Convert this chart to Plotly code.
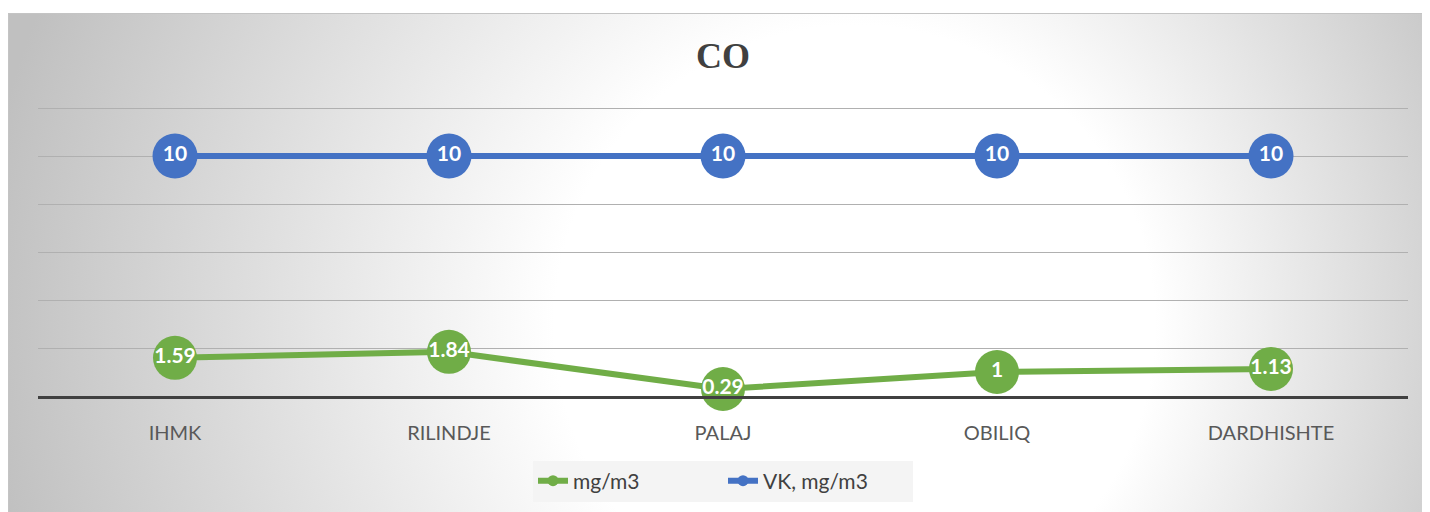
import base64
import plotly.graph_objects as go

categories = ["IHMK", "RILINDJE", "PALAJ", "OBILIQ", "DARDHISHTE"]
co_values = [1.59, 1.84, 0.29, 1.0, 1.13]
vk_values = [10, 10, 10, 10, 10]
co_labels = ["1.59", "1.84", "0.29", "1", "1.13"]
vk_labels = ["10", "10", "10", "10", "10"]
series_names = ["mg/m3", "VK, mg/m3"]

GREEN = "#70AD47"
BLUE = "#4472C4"

W, H = 1430, 512
L, R, T, B = 30, 30, 98, 124
PW, PH = W - L - R, H - T - B
AX = H - B  # axis pixel y (figure coords)
YMAX = PH / 24.0

svg = (
    '<svg xmlns="http://www.w3.org/2000/svg" width="1430" height="507" preserveAspectRatio="none">'
    '<defs><radialGradient id="g" gradientUnits="userSpaceOnUse" cx="760" cy="300" r="790" '
    'fx="900" fy="320">'
    '<stop offset="0" stop-color="#ffffff"/>'
    '<stop offset="0.38" stop-color="#ffffff"/>'
    '<stop offset="1" stop-color="#c0c0c0"/>'
    '</radialGradient></defs>'
    '<rect width="1430" height="507" fill="url(#g)"/></svg>'
)
src = "data:image/svg+xml;base64," + base64.b64encode(svg.encode()).decode()

fig = go.Figure()

label_font = dict(family="Lato", size=21, color="white", weight="bold")

fig.add_trace(go.Scatter(
    x=categories, y=vk_values, mode="lines+markers+text", text=vk_labels,
    textposition="middle center", textfont=label_font,
    line=dict(color=BLUE, width=6), marker=dict(size=45, color=BLUE),
    showlegend=False, hoverinfo="skip", cliponaxis=False,
))
fig.add_trace(go.Scatter(
    x=categories, y=co_values, mode="lines+markers+text", text=co_labels,
    textposition="middle center", textfont=label_font,
    line=dict(color=GREEN, width=6), marker=dict(size=44, color=GREEN),
    showlegend=False, hoverinfo="skip", cliponaxis=False,
))
# legend entries
fig.add_trace(go.Scatter(
    x=[None], y=[None], mode="lines+markers", name=series_names[0],
    line=dict(color=GREEN, width=6), marker=dict(size=11, color=GREEN),
))
fig.add_trace(go.Scatter(
    x=[None], y=[None], mode="lines+markers", name=series_names[1],
    line=dict(color=BLUE, width=6), marker=dict(size=11, color=BLUE),
))

fig.update_layout(
    width=W, height=H,
    margin=dict(l=L, r=R, t=T, b=B, pad=0),
    paper_bgcolor="white",
    plot_bgcolor="rgba(0,0,0,0)",
    title=dict(text="<b>CO</b>", x=(L + PW / 2) / W, xanchor="center",
               y=1 - 47 / H, yanchor="middle",
               font=dict(family="Liberation Serif", size=36, color="#404040")),
    xaxis=dict(
        type="category", range=[-0.5, 4.5], showgrid=False, zeroline=False,
        showline=True, linecolor="#404040", linewidth=3, ticks="",
        tickfont=dict(family="Lato", size=20, color="#595959"),
        ticklabelstandoff=17,
    ),
    yaxis=dict(
        range=[0, YMAX], tickvals=[2, 4, 6, 8, 10, 12], showticklabels=False,
        zeroline=False, showgrid=True, gridcolor="#b0b0b0", gridwidth=1, showline=False,
    ),
    legend=dict(
        orientation="h", x=0.5, xanchor="center", y=(AX - 473) / PH, yanchor="middle",
        bgcolor="rgba(243,243,243,0.9)", font=dict(family="Lato", size=21, color="#404040"),
        entrywidth=145, entrywidthmode="pixels", tracegroupgap=0,
    ),
    images=[dict(
        source=src, xref="paper", yref="paper",
        x=(0 - L) / PW, y=(AX - 5) / PH,
        sizex=W / PW, sizey=(H - 5) / PH,
        xanchor="left", yanchor="top", sizing="stretch", layer="below",
    )],
    shapes=[dict(
        type="rect", xref="paper", yref="paper",
        x0=(0.5 - L) / PW, x1=(W + 5 - L) / PW,
        y0=(AX - H - 5) / PH, y1=(AX - 5.5) / PH,
        line=dict(color="#c4c4c4", width=1), fillcolor="rgba(0,0,0,0)", layer="below",
    )],
)

fig.write_html("out.html")
